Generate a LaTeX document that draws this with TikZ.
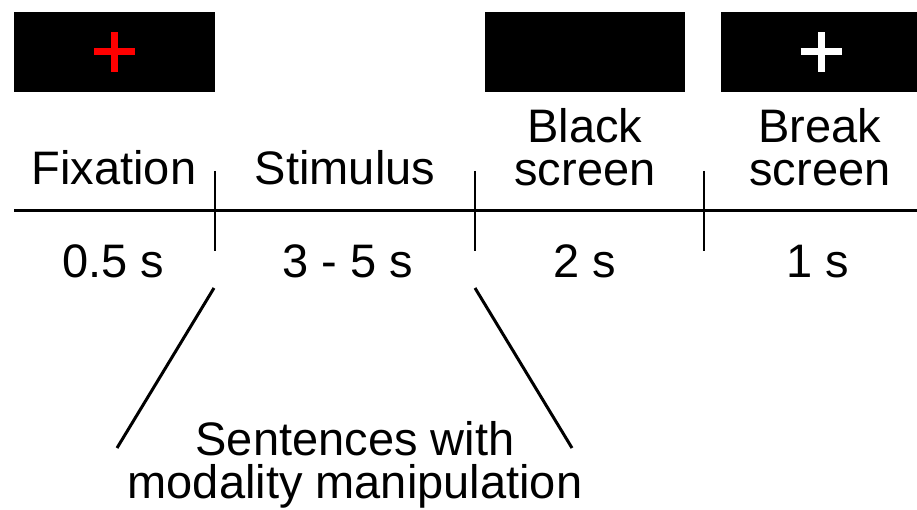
\documentclass[tikz,border=0pt]{standalone}
\usepackage{fontspec}
\setmainfont{Liberation Sans}
\begin{document}
\begin{tikzpicture}[x=1pt,y=-1pt,
  screenbox/.style={fill=black,draw=none,inner sep=0pt,minimum height=80pt},
  lbl/.style={inner sep=0pt,anchor=base,align=center,font=\fontsize{47}{43}\selectfont},
  tline/.style={line width=3pt},
  tick/.style={line width=2pt},
  crossbar/.style={line width=7pt}]
\useasboundingbox (0,0) rectangle (917,510);
% screens
\node[screenbox,minimum width=201pt] (fixbox) at (114.5,52) {};
\node[screenbox,minimum width=200pt] (blackbox) at (585,52) {};
\node[screenbox,minimum width=200pt] (breakbox) at (821,52) {};
\draw[crossbar,red] ([xshift=-20.5pt]fixbox.center) -- ([xshift=20.5pt]fixbox.center);
\draw[crossbar,red] ([yshift=-20pt]fixbox.center) -- ([yshift=20pt]fixbox.center);
\draw[crossbar,white] ([xshift=-20.5pt]breakbox.center) -- ([xshift=20.5pt]breakbox.center);
\draw[crossbar,white] ([yshift=-20pt]breakbox.center) -- ([yshift=20pt]breakbox.center);
% timeline
\coordinate (tl0) at (14,211);
\coordinate (tl1) at (917,211);
\draw[tline] (tl0) -- (tl1);
\coordinate (t1a) at (215,171); \coordinate (t1b) at (215,251);
\coordinate (t2a) at (475,171); \coordinate (t2b) at (475,251);
\coordinate (t3a) at (704,171); \coordinate (t3b) at (704,251);
\draw[tick] (t1a) -- (t1b);
\draw[tick] (t2a) -- (t2b);
\draw[tick] (t3a) -- (t3b);
% labels
\node[lbl] (fix) at (114,185) {Fixation};
\node[lbl] (stim) at (345,185) {Stimulus};
\node[lbl] (black) at (585,186) {Black\\screen};
\node[lbl] (break) at (820,186) {Break\\screen};
\node[lbl] (d1) at (113,277) {0.5 s};
\node[lbl] (d2) at (348,277) {3 - 5 s};
\node[lbl] (d3) at (585,277) {2 s};
\node[lbl] (d4) at (818,277) {1 s};
\node[lbl] (sent) at (355,498) {Sentences with\\modality manipulation};
% bracket lines
\coordinate (l1) at (214,288); \coordinate (l2) at (117,448);
\coordinate (r1) at (475,288); \coordinate (r2) at (572,448);
\draw[tline] (l1) -- (l2);
\draw[tline] (r1) -- (r2);
\end{tikzpicture}
\end{document}
